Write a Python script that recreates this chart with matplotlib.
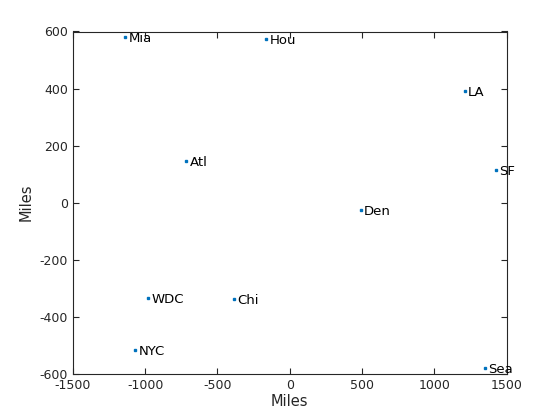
import matplotlib.pyplot as plt

# City coordinates (classical MDS of road distances)
cities = ['Atl', 'Chi', 'Den', 'Hou', 'LA', 'Mia', 'NYC', 'SF', 'Sea', 'WDC']
x = [-717, -384, 489, -163, 1209, -1140, -1070, 1424, 1348, -980]
y = [145, -338, -26, 572, 391, 582, -518, 114, -579, -334]

plt.rcParams['font.family'] = 'DejaVu Sans'
fig = plt.figure(figsize=(5.6, 4.2), dpi=100)
ax = fig.add_axes([0.13, 0.11, 0.775, 0.815])

ax.plot(x, y, linestyle='none', marker='s', markersize=2, color='#0072BD')
for xi, yi, name in zip(x, y, cities):
    ax.annotate(name, (xi, yi), xytext=(2.5, -1), textcoords='offset points',
                va='center', ha='left', fontsize=9.5, color='#000000')

ax.set_xlim(-1500, 1500)
ax.set_ylim(-600, 600)
ax.set_xticks(range(-1500, 1501, 500))
ax.set_yticks(range(-600, 601, 200))
ax.set_xticklabels([str(v) for v in range(-1500, 1501, 500)])
ax.set_yticklabels([str(v) for v in range(-600, 601, 200)])
ax.set_xlabel('Miles', fontsize=10.5, color='#262626', labelpad=2)
ax.set_ylabel('Miles', fontsize=10.5, color='#262626')
ax.tick_params(direction='in', top=True, right=True, labelsize=9,
               colors='#262626', length=4, width=0.8)
for s in ax.spines.values():
    s.set_color('#262626')
    s.set_linewidth(0.8)

fig.savefig('out.png', dpi=100)
